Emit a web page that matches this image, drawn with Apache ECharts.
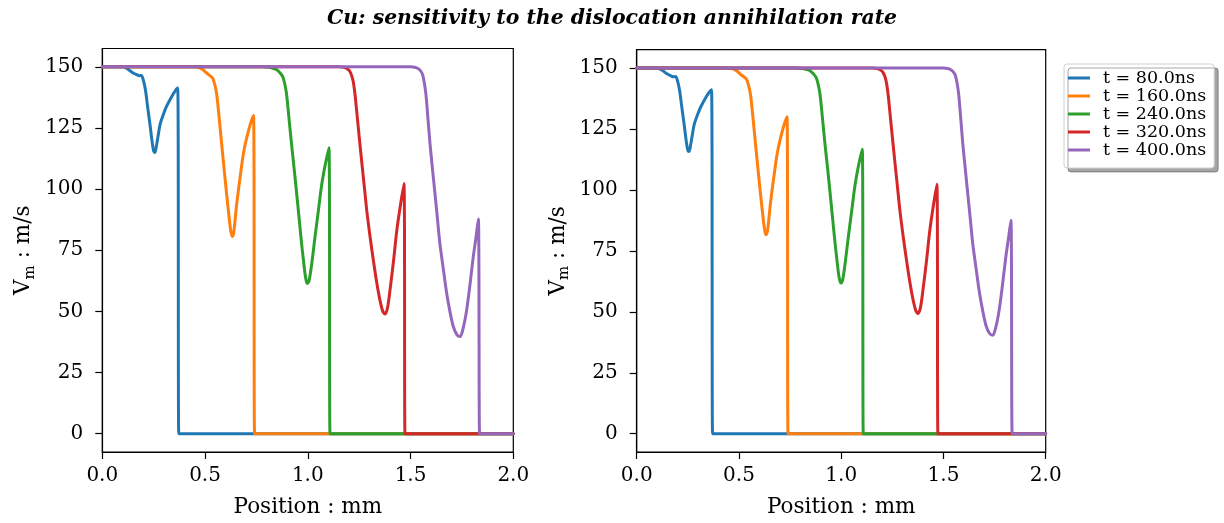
<!DOCTYPE html>
<html>
<head>
<meta charset="utf-8">
<script src="https://cdn.jsdelivr.net/npm/echarts@6/dist/echarts.min.js"></script>
<style>html,body{margin:0;padding:0;background:#fff}#c{width:1224px;height:523px}</style>
</head>
<body>
<div id="c"></div>
<script>
var titleText = 'Cu: sensitivity to the dislocation annihilation rate';
var times = [80, 160, 240, 320, 400];
var colors = ['#1f77b4', '#ff7f0e', '#2ca02c', '#d62728', '#9467bd'];
var xTicks = [0, 0.5, 1.0, 1.5, 2.0];
var yTicks = [0, 25, 50, 75, 100, 125, 150];

// Left panel
var left80 = [[0,150],[0.10,150],[0.12,149.3],[0.135,148.4],[0.15,147.5],[0.167,146.8],[0.18,146.4],[0.19,146.5],[0.2,144.5],[0.21,140.5],[0.22,134],[0.232,126.4],[0.243,119],[0.25,115.5],[0.256,115],[0.262,117],[0.272,122],[0.281,126.4],[0.297,130.5],[0.313,133.9],[0.338,137.9],[0.355,140.2],[0.367,141.3],[0.372,0],[0.38,0],[2.0,0]];
var left160 = [[0,150],[0.44,150],[0.47,149.7],[0.49,148.8],[0.508,147.4],[0.525,146.3],[0.537,145.4],[0.548,142.5],[0.557,138.6],[0.57,128],[0.581,118.3],[0.593,108],[0.605,98],[0.617,88.5],[0.625,83],[0.633,80.6],[0.64,82.5],[0.654,93.9],[0.67,104.5],[0.686,114.2],[0.70,120],[0.72,126.5],[0.736,130.1],[0.741,0],[0.75,0],[2.0,0]];
var left240 = [[0,150],[0.78,150],[0.81,149.8],[0.83,149.4],[0.849,148.8],[0.865,147.5],[0.878,146],[0.888,143],[0.897,138.6],[0.909,128.5],[0.921,118.3],[0.934,108],[0.946,98],[0.958,87.8],[0.970,77.6],[0.98,70],[0.99,63.5],[0.998,61.4],[1.006,62.5],[1.02,70],[1.035,80.4],[1.052,91.5],[1.068,102],[1.085,110],[1.103,116.9],[1.108,0],[1.116,0],[2.0,0]];
var left320 = [[0,150],[1.15,150],[1.18,149.7],[1.195,149],[1.205,148.1],[1.213,146.5],[1.221,144],[1.23,138.5],[1.238,131.8],[1.25,121.5],[1.262,111.5],[1.275,101],[1.287,91.2],[1.303,80.5],[1.319,70.9],[1.335,62],[1.351,54.6],[1.365,50],[1.376,48.9],[1.388,51.5],[1.4,58.7],[1.417,70.5],[1.433,83],[1.45,93],[1.468,102.3],[1.473,0],[1.481,0],[2.0,0]];
var left400 = [[0,150],[1.50,150],[1.52,149.8],[1.538,149.2],[1.55,148.2],[1.559,146.7],[1.567,143.5],[1.575,138.6],[1.585,128.5],[1.595,118.3],[1.607,108],[1.619,98],[1.631,87.8],[1.643,77.6],[1.66,67],[1.676,57.3],[1.692,49.8],[1.708,43.8],[1.725,40.5],[1.741,39.7],[1.757,43.5],[1.773,50.5],[1.79,61.5],[1.805,72.2],[1.818,80],[1.830,87.8],[1.836,0],[1.844,0],[2.0,0]];

// Right panel
var right80 = [[0,150],[0.10,150],[0.12,149.3],[0.135,148.4],[0.15,147.5],[0.167,146.8],[0.18,146.4],[0.19,146.5],[0.2,144.6],[0.21,140.7],[0.22,134.3],[0.232,126.8],[0.243,119.6],[0.25,116.2],[0.256,115.7],[0.262,117.6],[0.272,122.5],[0.281,126.8],[0.297,130.7],[0.313,134],[0.338,137.9],[0.355,140.1],[0.366,141.1],[0.371,0],[0.379,0],[2.0,0]];
var right160 = [[0,150],[0.44,150],[0.47,149.7],[0.49,148.8],[0.508,147.4],[0.525,146.3],[0.537,145.4],[0.548,142.6],[0.557,138.8],[0.57,128.4],[0.581,118.8],[0.593,108.6],[0.605,98.7],[0.617,89.3],[0.625,83.9],[0.632,81.6],[0.64,83.4],[0.654,94.5],[0.67,104.9],[0.686,114.4],[0.70,120.1],[0.72,126.5],[0.735,130],[0.740,0],[0.748,0],[2.0,0]];
var right240 = [[0,150],[0.78,150],[0.81,149.8],[0.83,149.4],[0.849,148.8],[0.865,147.5],[0.878,146],[0.888,143.1],[0.897,138.8],[0.909,128.8],[0.921,118.6],[0.934,108.4],[0.946,98.5],[0.958,88.3],[0.970,78.2],[0.98,70.6],[0.99,64],[0.999,61.8],[1.007,63],[1.02,70.4],[1.035,80.8],[1.052,91.8],[1.068,102.2],[1.085,110.1],[1.103,116.7],[1.108,0],[1.116,0],[2.0,0]];
var right320 = [[0,150],[1.15,150],[1.18,149.7],[1.195,149],[1.205,148.1],[1.213,146.6],[1.221,144.1],[1.23,138.7],[1.238,132],[1.25,121.8],[1.262,111.8],[1.275,101.4],[1.287,91.6],[1.303,81],[1.319,71.4],[1.335,62.5],[1.351,55.1],[1.365,50.4],[1.376,49.3],[1.388,51.9],[1.4,59.1],[1.417,70.8],[1.433,83.2],[1.45,93.2],[1.468,102.3],[1.473,0],[1.481,0],[2.0,0]];
var right400 = [[0,150],[1.50,150],[1.52,149.8],[1.538,149.2],[1.55,148.2],[1.559,146.7],[1.567,143.6],[1.575,138.8],[1.585,128.8],[1.595,118.6],[1.607,108.4],[1.619,98.4],[1.631,88.3],[1.643,78.1],[1.66,67.5],[1.676,57.9],[1.692,50.4],[1.708,44.4],[1.725,41.2],[1.741,40.4],[1.757,44],[1.773,51],[1.79,61.9],[1.805,72.5],[1.818,80.2],[1.830,87.6],[1.836,0],[1.844,0],[2.0,0]];

var leftData = [left80, left160, left240, left320, left400];
var rightData = [right80, right160, right240, right320, right400];
var names = times.map(function (t) { return 't = ' + t.toFixed(1) + 'ns'; });

var FONT = 'DejaVu Serif';
var chart = echarts.init(document.getElementById('c'), null, {renderer: 'canvas'});

function xAxis(gi) {
  return {
    type: 'value', gridIndex: gi, min: 0, max: 2, interval: 0.5,
    name: 'Position : mm', nameLocation: 'middle', nameGap: 44,
    nameTextStyle: {fontFamily: FONT, fontSize: 21.5, color: '#000'},
    axisLine: {show: true, onZero: false, lineStyle: {color: '#000', width: 1.2}},
    axisTick: {show: true, length: 7, inside: false, lineStyle: {color: '#000', width: 1.2}},
    axisLabel: {fontFamily: FONT, fontSize: 20, color: '#000', margin: 14,
      formatter: function (v) { return v.toFixed(1); }},
    splitLine: {show: false}
  };
}
function yAxis(gi) {
  return {
    type: 'value', gridIndex: gi, min: -7.5, max: 157.5,
    name: '{a|V}{b|m}{a| : m/s}', nameLocation: 'middle', nameGap: 65, nameRotate: 90,
    nameTextStyle: {rich: {
      a: {fontFamily: FONT, fontSize: 21.5, color: '#000', lineHeight: 27, verticalAlign: 'middle'},
      b: {fontFamily: FONT, fontSize: 15, color: '#000', lineHeight: 15, verticalAlign: 'bottom'}
    }},
    axisLine: {show: true, onZero: false, lineStyle: {color: '#000', width: 1.2}},
    axisTick: {show: true, length: 7, inside: false, customValues: yTicks, lineStyle: {color: '#000', width: 1.2}},
    axisLabel: {fontFamily: FONT, fontSize: 20, color: '#000', margin: 19, customValues: yTicks},
    splitLine: {show: false}
  };
}

var series = [];
[leftData, rightData].forEach(function (set, gi) {
  set.forEach(function (d, i) {
    series.push({
      type: 'line', name: names[i], xAxisIndex: gi, yAxisIndex: gi,
      data: d, showSymbol: false, symbol: 'none', smooth: 0.3,
      lineStyle: {color: colors[i], width: 3, join: 'round', cap: 'round'},
      itemStyle: {color: colors[i]},
      emphasis: {disabled: true}
    });
  });
});

chart.setOption({
  animation: false,
  backgroundColor: '#fff',
  title: {
    text: titleText, left: 'center', top: 4,
    textStyle: {fontFamily: FONT, fontWeight: 'bold', fontStyle: 'italic', fontSize: 20.4, color: '#000'}
  },
  legend: {
    data: names, orient: 'vertical', left: 1064, top: 64,
    padding: [5, 8, 9, 4], itemGap: 0, itemWidth: 22, itemHeight: 3, icon: 'rect',
    backgroundColor: '#fff', borderColor: '#d0d0d0', borderWidth: 1, borderRadius: 3,
    shadowColor: 'rgba(0,0,0,0.35)', shadowOffsetX: 4, shadowOffsetY: 4, shadowBlur: 0,
    textStyle: {fontFamily: FONT, fontSize: 17.5, color: '#000', lineHeight: 17, padding: [0, 0, 0, 8]},
    selectedMode: false
  },
  grid: [
    {left: 102.3, top: 48.5, width: 411, height: 405, show: true, borderColor: '#000', borderWidth: 1.2, containLabel: false},
    {left: 636.7, top: 49.7, width: 409, height: 403.6, show: true, borderColor: '#000', borderWidth: 1.2, containLabel: false}
  ],
  xAxis: [xAxis(0), xAxis(1)],
  yAxis: [yAxis(0), yAxis(1)],
  series: series
});
</script>
</body>
</html>
